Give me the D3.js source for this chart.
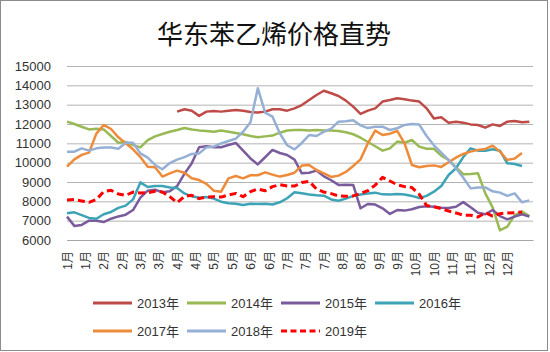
<!DOCTYPE html>
<html>
<head>
<meta charset="utf-8">
<script src="https://cdn.jsdelivr.net/npm/d3@7"></script>
<style>
  body { margin: 0; background: #fff; }
  text { font-family: "Liberation Sans", "Noto Sans CJK SC", sans-serif; }
</style>
</head>
<body>
<svg id="chart" width="550" height="352"></svg>
<script>
// x labels under the axis, one every 10 trading days
var monthTicks = ["1月","1月","2月","2月","3月","3月","4月","4月","5月","5月","6月","6月",
  "7月","7月","7月","8月","8月","9月","9月","10月","10月","11月","11月","12月","12月"];

var yearNames = ["2013年","2014年","2015年","2016年","2017年","2018年","2019年"];

// prices read every 4th trading day; 2013 starts at the 16th sample
var start2013 = 15;
var p2013 = [12640,12760,12690,12420,12640,12670,12640,12690,12720,12690,12620,12590,12640,12760,
  12760,12690,12810,12980,13240,13500,13720,13590,13450,13210,12900,12520,12690,12810,13160,13240,
  13330,13280,13210,13160,12810,12290,12350,12070,12120,12070,11980,11950,11810,11980,11900,12120,
  12160,12090,12120];
var p2014 = [12120,12000,11860,11720,11760,11720,11380,11030,11070,10910,10790,11170,11360,11480,
  11600,11690,11790,11720,11670,11640,11600,11660,11600,11530,11470,11380,11310,11360,11400,11550,
  11660,11690,11690,11660,11690,11670,11660,11640,11570,11470,11290,11070,10850,10620,10740,11090,
  11030,11170,10830,10720,10720,10360,10140,9760,9400,9410,9450,8410,7690,6500,6690,7290,7470,7240];
var p2015 = [7210,6730,6780,7000,7000,6930,7100,7220,7310,7550,8190,8550,8600,8470,8520,8790,9420,
  9970,10800,10850,10800,10800,10910,11020,10620,10220,9910,10280,10660,10500,10400,10160,9450,9480,
  9590,9290,9090,8850,8860,8850,7640,7860,7830,7640,7350,7550,7520,7590,7710,7740,7720,7670,7660,
  7720,7960,7690,7410,7330,7550,7240,7070,7210,7330,7210];
var p2016 = [7380,7430,7290,7140,7100,7330,7450,7660,7780,8100,8980,8740,8790,8790,8720,8690,8410,
  8260,8190,8220,8140,7980,7900,7880,7810,7880,7860,7880,7840,7950,8160,8470,8420,8350,8310,8290,
  8100,8030,8140,8280,8350,8410,8450,8360,8350,8380,8350,8280,8170,8280,8500,8790,9360,9710,10290,
  10740,10620,10620,10690,10620,9970,9930,9830];
var p2017 = [9800,10170,10400,10520,11500,11950,11740,11310,11000,10690,10290,9790,9760,9280,9450,
  9590,9480,9190,9100,8900,8550,8500,9190,9310,9190,9350,9350,9500,9380,9280,9360,9480,9850,9880,
  9620,9450,9260,9330,9520,9830,10170,11000,11660,11430,11500,11640,11000,9880,9760,9830,9860,9780,
  10020,10260,10450,10570,10660,10710,10880,10570,10140,10210,10500];
var p2018 = [10570,10570,10740,10620,10740,10780,10780,10720,11030,11030,10480,10260,9880,9660,9980,
  10160,10290,10450,10480,10790,10830,11000,11120,11240,11600,12090,13850,12590,12380,11520,10900,
  10690,11020,11430,11380,11600,11760,12120,12140,12190,11930,11790,11860,11860,11690,11780,11950,
  12000,11970,11380,10900,10520,10140,9710,9220,8670,8720,8720,8520,8450,8280,8410,7950,8050];
var p2019 = [8070,8090,8020,7950,8100,8500,8570,8380,8310,8480,8430,8450,8520,8480,8240,7930,8260,
  8310,8140,8220,8240,8220,8330,8410,8240,8500,8640,8550,8760,8860,8790,8790,8970,9030,8640,8480,
  8400,8280,8260,8280,8410,8550,8840,9240,9050,8860,8760,8710,8360,7780,7720,7620,7500,7400,7280,
  7280,7190,7410,7240,7360,7400,7410,7450];

var yTicks = [6000,7000,8000,9000,10000,11000,12000,13000,14000,15000];

var series = [
  { name: yearNames[0], start: start2013, values: p2013, color: "#BE4B48" },
  { name: yearNames[1], start: 0, values: p2014, color: "#98B954" },
  { name: yearNames[2], start: 0, values: p2015, color: "#7A5C9C" },
  { name: yearNames[3], start: 0, values: p2016, color: "#3DA3B6" },
  { name: yearNames[4], start: 0, values: p2017, color: "#EE8B3A" },
  { name: yearNames[5], start: 0, values: p2018, color: "#95AFD5" },
  { name: yearNames[6], start: 0, values: p2019, color: "#FF0000", dash: "7,4" }
];

var step = 4;

var svg = d3.select("#chart");

svg.append("rect")
  .attr("x", 0.5).attr("y", 0.5)
  .attr("width", 547).attr("height", 350)
  .attr("fill", "#fff")
  .attr("stroke", "#8c8c8c");

svg.append("text")
  .attr("x", 274).attr("y", 44)
  .attr("text-anchor", "middle")
  .style("font-family", "'Noto Sans CJK SC', sans-serif")
  .style("font-size", "26px")
  .attr("fill", "#111")
  .text("华东苯乙烯价格直势");

var x = d3.scaleLinear().domain([0, 254]).range([67, 533]);
var y = d3.scaleLinear().domain([6000, 15000]).range([240, 66]);

// y axis with gridlines
var gy = svg.append("g")
  .attr("transform", "translate(67,0)")
  .call(d3.axisLeft(y)
    .tickValues(yTicks)
    .tickSize(-466)
    .tickPadding(16)
    .tickFormat(d3.format("d")));
gy.select(".domain").remove();
gy.selectAll(".tick line").attr("stroke", "#b3b3b3");
gy.selectAll(".tick text")
  .style("font-size", "13px")
  .attr("fill", "#333");

// x axis, rotated month labels
var gx = svg.append("g")
  .attr("transform", "translate(0,240)")
  .call(d3.axisBottom(x)
    .tickValues(d3.range(0, 241, 10))
    .tickSize(0)
    .tickFormat(function(d, i) { return monthTicks[i]; }));
gx.select(".domain").attr("stroke", "#a6a6a6");
gx.selectAll(".tick text")
  .attr("transform", "rotate(-90)")
  .attr("x", -11)
  .attr("y", 0)
  .attr("dy", "0.35em")
  .style("text-anchor", "end")
  .style("font-size", "12px")
  .attr("fill", "#333");

var line = d3.line()
  .x(function(d) { return x(d[0]); })
  .y(function(d) { return y(d[1]); });

svg.append("g").selectAll("path")
  .data(series)
  .enter().append("path")
  .attr("fill", "none")
  .attr("stroke", function(d) { return d.color; })
  .attr("stroke-width", function(d) { return d.dash ? 3 : 2.5; })
  .attr("stroke-dasharray", function(d) { return d.dash || null; })
  .attr("stroke-linejoin", "round")
  .attr("d", function(d) {
    return line(d.values.map(function(v, j) { return [(d.start + j) * step, v]; }));
  });

// legend, 4 per row
var legend = svg.append("g").selectAll(".legend")
  .data(series)
  .enter().append("g")
  .attr("class", "legend")
  .attr("transform", function(d, i) {
    return "translate(" + (93 + (i % 4) * 94) + "," + (303 + Math.floor(i / 4) * 28) + ")";
  });

legend.append("line")
  .attr("x1", 0).attr("x2", 39)
  .attr("stroke", function(d) { return d.color; })
  .attr("stroke-width", 3)
  .attr("stroke-dasharray", function(d) { return d.dash ? "6,3.5" : null; });

legend.append("text")
  .attr("x", 44)
  .attr("dy", "0.35em")
  .style("font-size", "13px")
  .attr("fill", "#333")
  .text(function(d) { return d.name; });
</script>
</body>
</html>
